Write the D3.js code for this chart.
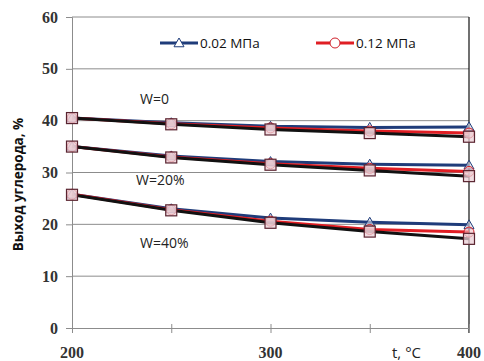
<!DOCTYPE html>
<html>
  <head>
    <meta http-equiv="Content-Type" content="text/html;charset=utf-8">
    <title>Выход углерода</title>
    <script type="text/javascript" src="https://d3js.org/d3.v7.min.js"></script>
    <style>
      html, body { margin: 0; padding: 0; background: #fff; }
      .tick-lbl { font-family: "Liberation Serif", serif; font-weight: bold; font-size: 16px; fill: #333; }
      .lbl { font-family: "Open Sans", sans-serif; font-size: 13.5px; fill: #222; }
      .legend text { font-family: "Open Sans", sans-serif; font-size: 13.5px; fill: #111; }
      .ytitle { font-family: "Open Sans", sans-serif; font-weight: bold; font-size: 13.5px; fill: #111; }
    </style>
  </head>
  <body>
  <script type="text/javascript">

// temperatures, °C
var temps = [200, 250, 300, 350, 400];

// carbon yield, % — blue = 0.02 MPa, red = 0.12 MPa, black = unlabeled third series
var w0_blue  = [40.5, 39.6, 38.9, 38.7, 38.8];
var w0_red   = [40.5, 39.4, 38.6, 38.0, 37.6];
var w0_black = [40.5, 39.3, 38.3, 37.6, 36.9];

var w20_blue  = [35.0, 33.2, 32.1, 31.6, 31.4];
var w20_red   = [35.0, 33.0, 31.7, 30.8, 30.2];
var w20_black = [35.0, 32.9, 31.5, 30.4, 29.3];

var w40_blue  = [25.8, 23.0, 21.2, 20.4, 19.9];
var w40_red   = [25.8, 22.8, 20.6, 19.0, 18.5];
var w40_black = [25.7, 22.7, 20.3, 18.6, 17.2];

var groupLabels = ["W=0", "W=20%", "W=40%"];
var legendLabels = ["0.02 МПа", "0.12 МПа"];
var yTicks = [0, 10, 20, 30, 40, 50, 60];
var xTicks = [200, 300, 400];

var W = 484, H = 361;
var margin = {left: 72, right: 15, top: 17, bottom: 33};

var svg = d3.select("body").append("svg").attr("width", W).attr("height", H);

var x = d3.scaleLinear().domain([200, 400]).range([margin.left, W - margin.right]);
var y = d3.scaleLinear().domain([0, 60]).range([H - margin.bottom, margin.top]);

// gridlines
svg.append("g").selectAll("line").data(yTicks.slice(1)).enter().append("line")
  .attr("x1", x(200)).attr("x2", x(400))
  .attr("y1", function(d){ return y(d); }).attr("y2", function(d){ return y(d); })
  .attr("stroke", "#8c8c8c").attr("stroke-width", 1);

// right border
svg.append("line").attr("x1", x(400)).attr("x2", x(400))
  .attr("y1", y(60)).attr("y2", y(0) + 5).attr("stroke", "#111").attr("stroke-width", 1.2);

// y axis
var yAxis = svg.append("g").attr("transform", "translate(" + x(200) + ",0)")
  .call(d3.axisLeft(y).tickValues(yTicks).tickSize(6).tickFormat(d3.format("d")));
yAxis.select(".domain").attr("stroke", "#8c8c8c");
yAxis.selectAll(".tick line").attr("stroke", "#8c8c8c");
yAxis.selectAll(".tick text").attr("class", "tick-lbl").attr("x", -14).attr("font-family", null).attr("font-size", null);

// x axis
var xAxis = svg.append("g").attr("transform", "translate(0," + y(0) + ")")
  .call(d3.axisBottom(x).tickValues(temps).tickSize(0).tickFormat(""));
xAxis.select(".domain").attr("stroke", "#8c8c8c");
xAxis.selectAll(".tick line").attr("y1", -4).attr("y2", 5).attr("stroke", "#8c8c8c");
svg.append("g").selectAll("text").data(xTicks).enter().append("text")
  .attr("class", "tick-lbl").attr("text-anchor", "middle")
  .attr("x", function(d){ return x(d); }).attr("y", y(0) + 30)
  .text(function(d){ return d; });
svg.append("text").attr("class", "lbl").attr("x", 392).attr("y", y(0) + 30)
  .style("font-size", "15px").text("t, °C");

// y title
svg.append("text").attr("class", "ytitle").attr("text-anchor", "middle")
  .attr("transform", "translate(23," + ((y(0) + y(60)) / 2 + 12) + ") rotate(-90)")
  .text("Выход углерода, %");

var line = d3.line().x(function(d, i){ return x(temps[i]); }).y(function(d){ return y(d); });

var blues = [w0_blue, w20_blue, w40_blue];
var reds = [w0_red, w20_red, w40_red];
var blacks = [w0_black, w20_black, w40_black];

function tri(cx, cy, s) {
  return "M" + cx + "," + (cy - s) + "L" + (cx + s) + "," + (cy + s * 0.75) + "L" + (cx - s) + "," + (cy + s * 0.75) + "Z";
}

var plot = svg.append("g");
blues.forEach(function(s){
  plot.append("path").attr("d", line(s)).attr("fill", "none").attr("stroke", "#1f3c7a").attr("stroke-width", 3);
});
reds.forEach(function(s){
  plot.append("path").attr("d", line(s)).attr("fill", "none").attr("stroke", "#e01e24").attr("stroke-width", 3);
});
blacks.forEach(function(s){
  plot.append("path").attr("d", line(s)).attr("fill", "none").attr("stroke", "#111").attr("stroke-width", 3);
});
blues.forEach(function(s){
  s.forEach(function(v, i){
    plot.append("path").attr("d", tri(x(temps[i]), y(v), 5)).attr("fill", "#d8dce8").attr("fill-opacity", 0.6)
      .attr("stroke", "#1f3c7a").attr("stroke-width", 1);
  });
});
reds.forEach(function(s){
  s.forEach(function(v, i){
    plot.append("circle").attr("cx", x(temps[i])).attr("cy", y(v)).attr("r", 5)
      .attr("fill", "#f3c0c4").attr("fill-opacity", 0.6).attr("stroke", "#d0202a").attr("stroke-width", 1);
  });
});
blacks.forEach(function(s){
  s.forEach(function(v, i){
    plot.append("rect").attr("x", x(temps[i]) - 5.5).attr("y", y(v) - 5.5).attr("width", 11).attr("height", 11)
      .attr("fill", "#e9cfd6").attr("fill-opacity", 0.75).attr("stroke", "#5a2430").attr("stroke-width", 1.2);
  });
});

// group labels
var labelPos = [[140, 104], [136, 185], [140, 248]];
svg.append("g").selectAll("text").data(groupLabels).enter().append("text")
  .attr("class", "lbl").style("font-size", "14px")
  .attr("x", function(d, i){ return labelPos[i][0]; }).attr("y", function(d, i){ return labelPos[i][1]; })
  .text(function(d){ return d; });

// legend
var leg = svg.append("g").attr("class", "legend");
var legX = [160, 316];
legendLabels.forEach(function(t, i){
  var g = leg.append("g").attr("transform", "translate(" + legX[i] + ",43)");
  g.append("line").attr("x1", 0).attr("x2", 38).attr("stroke", i ? "#e01e24" : "#1f3c7a").attr("stroke-width", 3);
  if (i === 0) {
    g.append("path").attr("d", tri(19, 0, 5)).attr("fill", "#fff").attr("stroke", "#1f3c7a").attr("stroke-width", 1);
  } else {
    g.append("circle").attr("cx", 19).attr("cy", 0).attr("r", 5).attr("fill", "#fff").attr("stroke", "#d0202a").attr("stroke-width", 1);
  }
  g.append("text").attr("x", 40).attr("y", 5).text(t);
});

  </script>
  </body>
</html>
